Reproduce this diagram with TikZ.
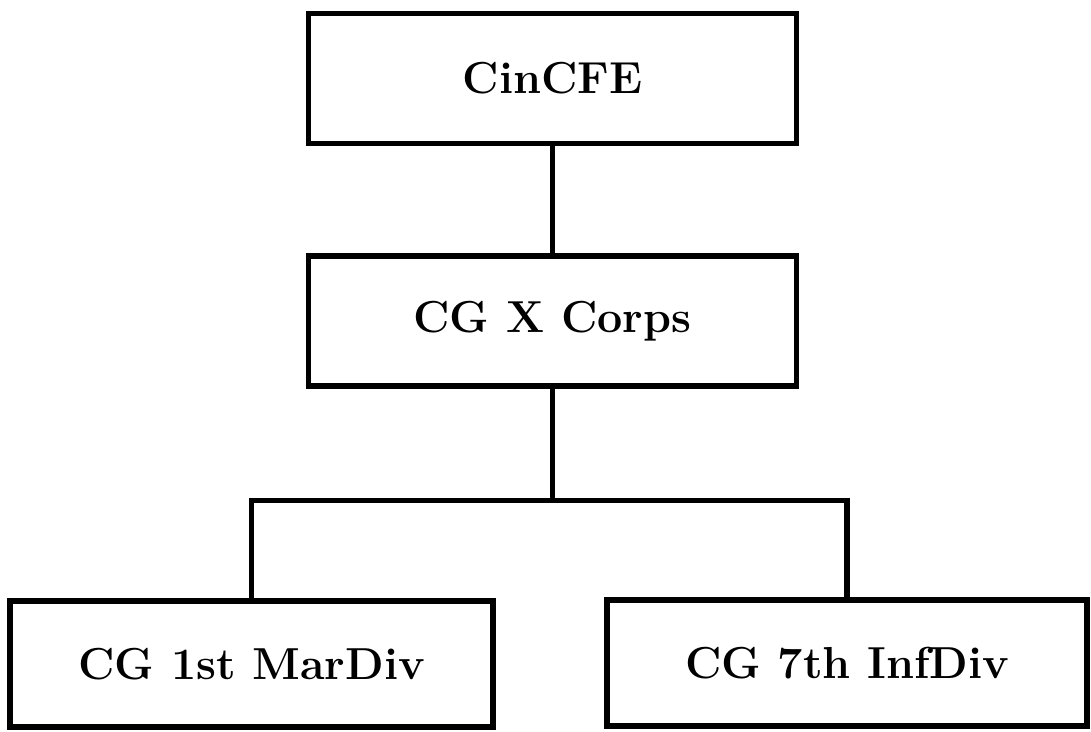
\documentclass[tikz,border=0pt]{standalone}
\tikzset{
  unitbox/.style={draw, line width=3pt, minimum width=9.75cm, minimum height=2.6cm,
    font=\fontsize{25.5}{30}\selectfont\bfseries, inner sep=0pt},
  link/.style={line width=3pt}
}
\begin{document}
\begin{tikzpicture}
\useasboundingbox (0,0) rectangle (21.82,14.64);
\node[unitbox] (cincfe) at (11.05,13.07) {CinCFE};
\node[unitbox] (xcorps) at (11.05,8.22) {CG X Corps};
\node[unitbox, minimum width=9.66cm, minimum height=2.52cm] (mardiv) at (5.03,1.36) {CG 1st MarDiv};
\node[unitbox, minimum width=9.6cm, minimum height=2.52cm] (infdiv) at (16.94,1.38) {CG 7th InfDiv};
\draw[link] (cincfe) -- (xcorps);
\draw[link] (xcorps.south) -- ++(0,-2.24) coordinate (fork);
\draw[link] (mardiv.north) |- (fork) -| (infdiv.north);
\end{tikzpicture}
\end{document}
